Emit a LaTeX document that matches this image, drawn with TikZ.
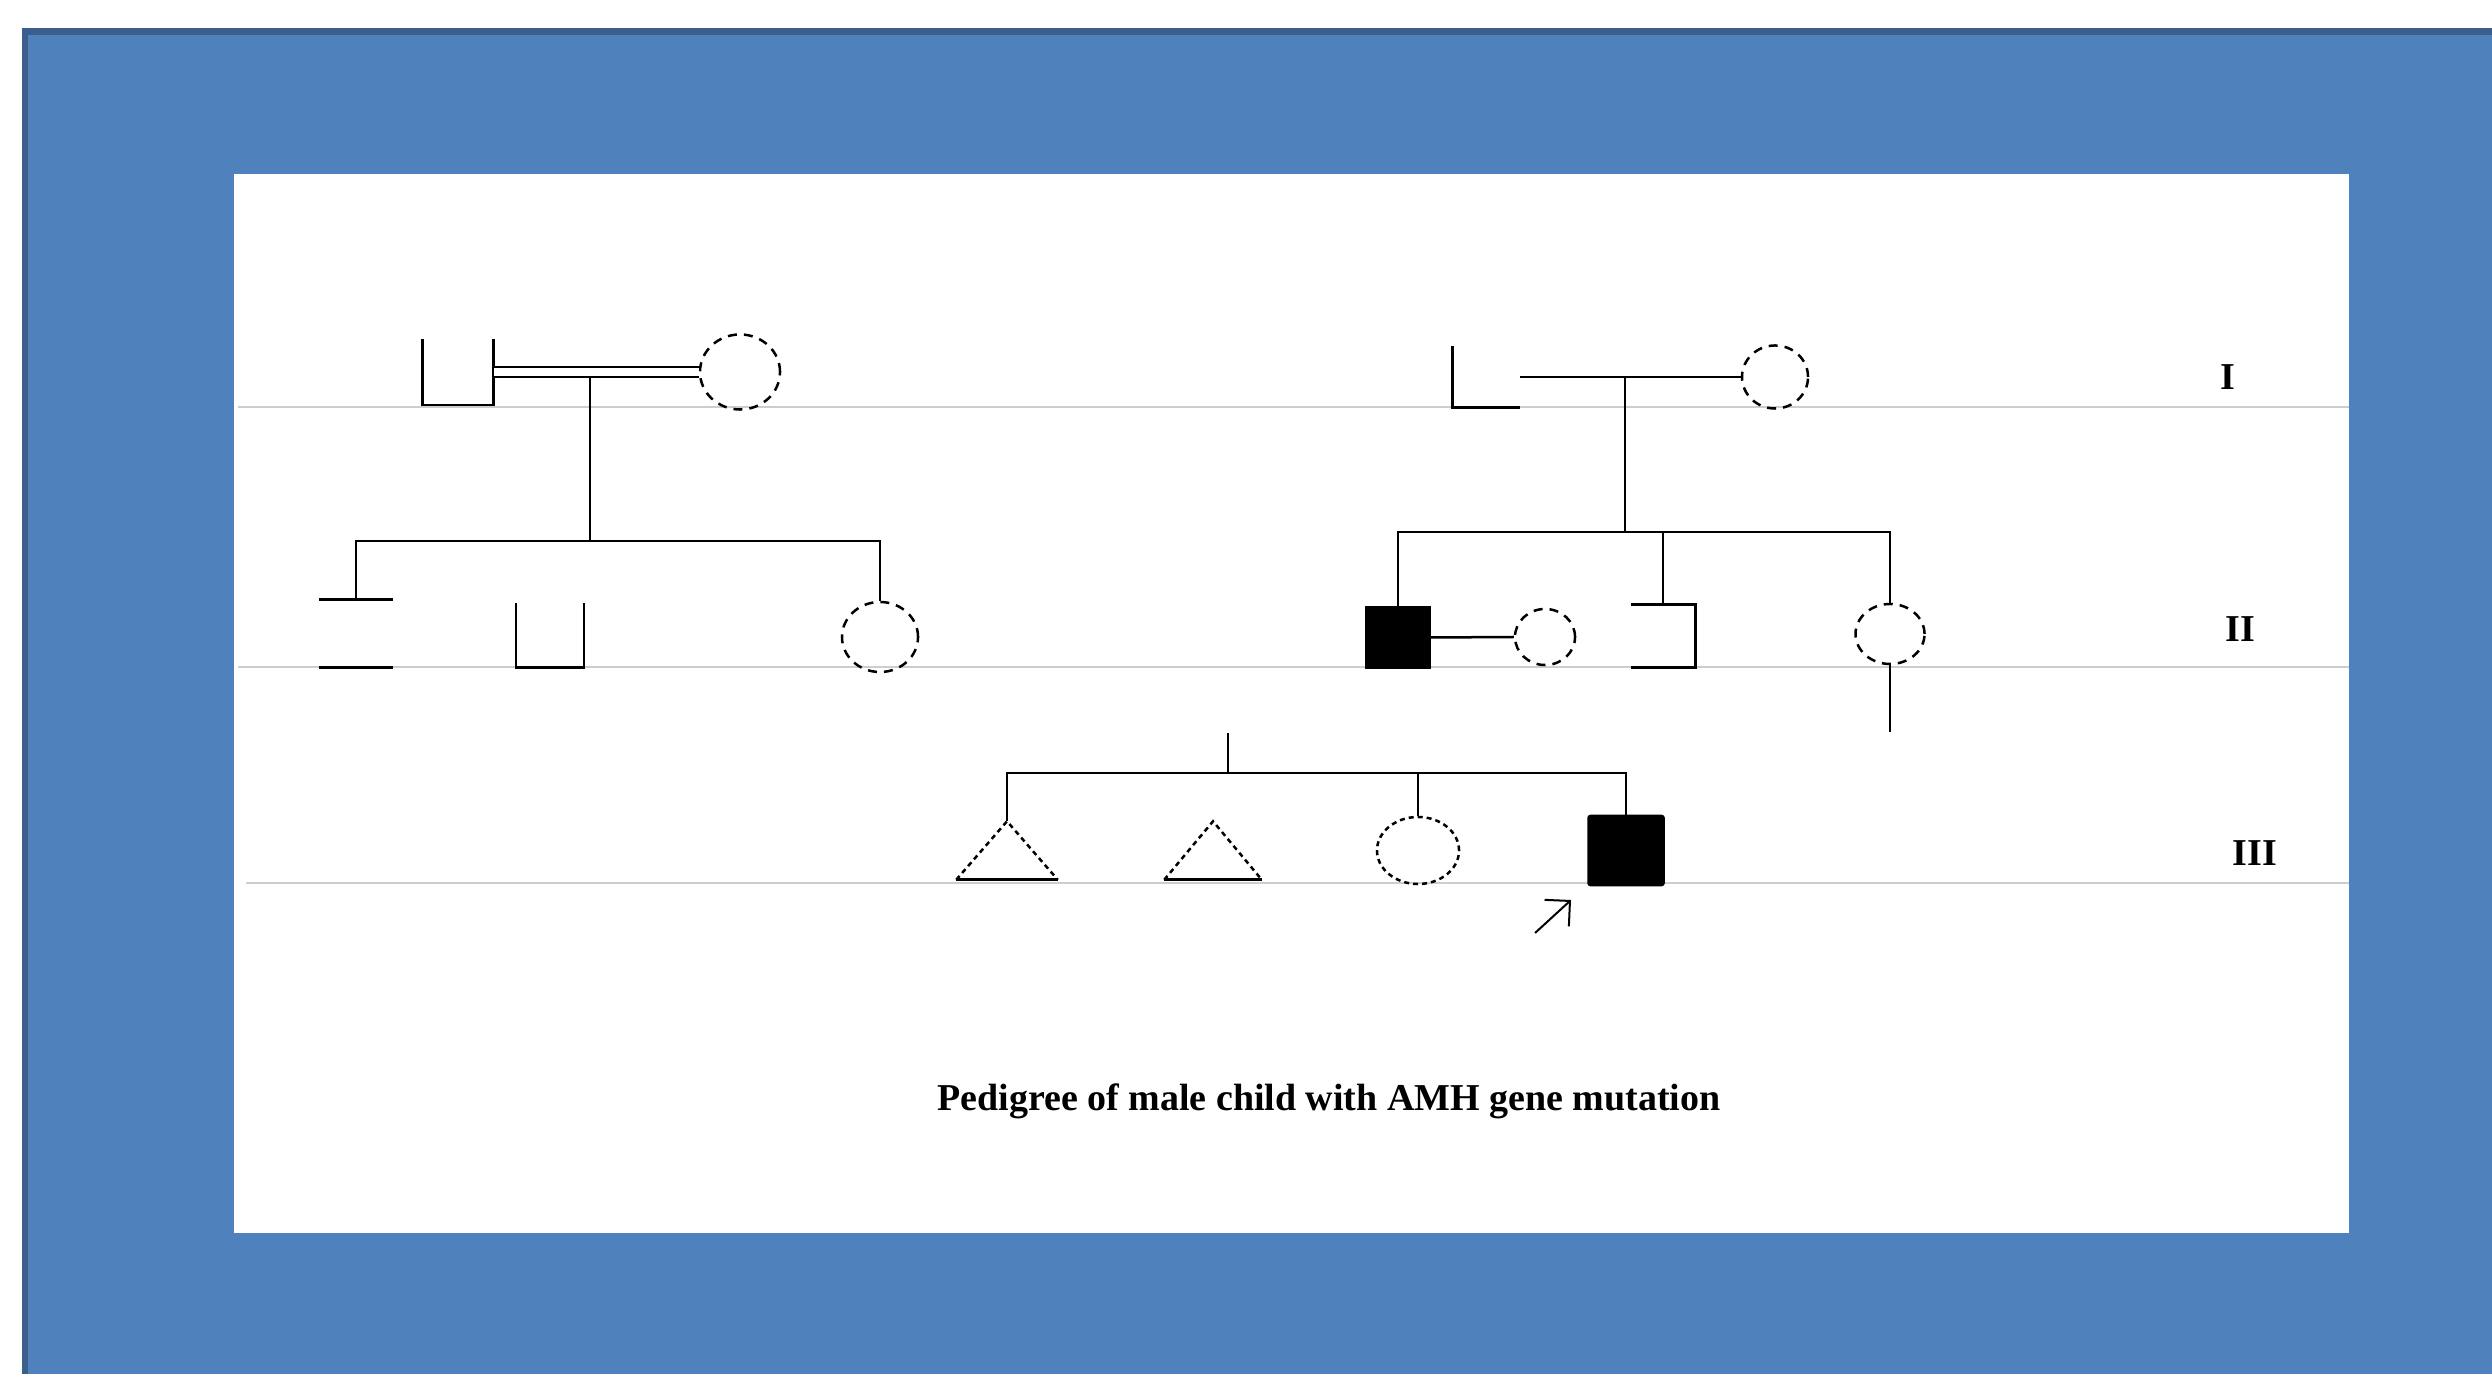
\documentclass[tikz,border=0pt]{standalone}
\usepackage{fontspec}
\setmainfont{Liberation Serif}
\usepackage{tikz}
\usetikzlibrary{arrows.meta, shapes.geometric}

\definecolor{frameblue}{HTML}{4F81BD}
\definecolor{frameedge}{HTML}{3B5E8C}
\definecolor{rulegray}{HTML}{CDCDCD}

\tikzset{
    rel/.style={line width=0.025cm},
    genrule/.style={draw=rulegray, line width=0.02cm},
    person/.style 2 args={rectangle, inner sep=0pt, minimum width=#1, minimum height=#2},
    affected/.style 2 args={rectangle, draw, fill=black, rel, inner sep=0pt,
        minimum width=#1, minimum height=#2},
    female/.style 2 args={ellipse, draw, rel, dash pattern=on 0.09cm off 0.07cm,
        inner sep=0pt, minimum width=#1, minimum height=#2},
    unknown/.style={dash pattern=on 0.05cm off 0.04cm},
    genlabel/.style={font=\bfseries\fontsize{10.8}{13}\selectfont, inner sep=0pt},
    proband/.style={line width=0.02cm, -{Straight Barb[length=0.18cm, width=0.36cm]}}
}

\begin{document}
\begin{tikzpicture}[x=0.01cm, y=-0.01cm]
    \useasboundingbox (0,0) rectangle (2492,1374);
    % frame
    \fill[frameblue] (22,28) rectangle (2492,1374);
    \fill[frameedge] (22,28) rectangle (2492,35);
    \fill[frameedge] (22,28) rectangle (28,1374);
    \fill[white] (234,174) rectangle (2349,1233);

    % generation lines
    \draw[genrule] (238,407) -- (2349,407);
    \draw[genrule] (238,667) -- (2349,667);
    \draw[genrule] (246,883) -- (2349,883);

    % generation I, left couple
    \node[person={0.70cm}{0.65cm}] (i1) at (458,372) {};
    \draw[rel] (i1.north west) -- (i1.south west) -- (i1.south east) -- (i1.north east);
    \node[female={0.80cm}{0.75cm}] (i2) at (740,372) {};
    \draw[rel, double, double distance=0.075cm] (i1.east) -- (i2.west);
    \coordinate (m1) at (590,377);
    \coordinate (s1) at (590,541);
    \draw[rel] (m1) -- (s1);

    % generation II, left sibship
    \node[person={0.72cm}{0.67cm}] (ii1) at (356,633.5) {};
    \draw[rel] (ii1.north west) -- (ii1.north east);
    \draw[rel] (ii1.south west) -- (ii1.south east);
    \node[person={0.67cm}{0.63cm}] (ii2) at (550,635.5) {};
    \draw[rel] (ii2.north west) -- (ii2.south west) -- (ii2.south east) -- (ii2.north east);
    \node[female={0.76cm}{0.70cm}] (ii3) at (880,637) {};
    \draw[rel] (ii1.north) |- (s1) -| (ii3.north);

    % generation I, right couple
    \node[person={0.66cm}{0.60cm}] (i3) at (1486,377) {};
    \draw[rel] (i3.north west) -- (i3.south west) -- (i3.south east);
    \node[female={0.66cm}{0.63cm}] (i4) at (1775,377) {};
    \draw[rel] (i3.east) -- (i4.west);
    \coordinate (m2) at (1625,377);
    \coordinate (s2) at (1625,532);
    \draw[rel] (m2) -- (s2);

    % generation II, right sibship
    \node[affected={0.63cm}{0.61cm}] (ii4) at (1398,637.5) {};
    \node[female={0.60cm}{0.56cm}] (ii5) at (1545,637) {};
    \draw[rel] (ii4.east) -- (ii5.west);
    \node[person={0.63cm}{0.62cm}] (ii6) at (1663,636) {};
    \draw[rel] (ii6.north west) -- (ii6.north east) -- (ii6.south east) -- (ii6.south west);
    \node[female={0.69cm}{0.60cm}] (ii7) at (1890,634) {};
    \coordinate (d1) at (1890,732);
    \draw[rel] (ii4.north) |- (s2) -| (ii7.north);
    \draw[rel] (s2 -| ii6.north) -- (ii6.north);
    \draw[rel] (ii7.south) -- (d1);

    % generation III
    \coordinate (c1) at (1228,733);
    \coordinate (s3) at (1228,773);
    \draw[rel] (c1) -- (s3);
    \node[person={1.00cm}{0.57cm}] (iii1) at (1007,850.5) {};
    \draw[rel, unknown] (iii1.south west) -- (iii1.north) -- (iii1.south east);
    \draw[rel] (iii1.south west) -- (iii1.south east);
    \node[person={0.96cm}{0.57cm}] (iii2) at (1213,850.5) {};
    \draw[rel, unknown] (iii2.south west) -- (iii2.north) -- (iii2.south east);
    \draw[rel] (iii2.south west) -- (iii2.south east);
    \node[female={0.82cm}{0.67cm}, unknown] (iii3) at (1418,850.5) {};
    \node[affected={0.75cm}{0.69cm}, rounded corners=0.02cm] (iii4) at (1626,850.5) {};
    \draw[rel] (iii1.north) |- (s3) -| (iii4.north);
    \draw[rel] (s3 -| iii3.north) -- (iii3.north);
    \coordinate (pb) at (1535,933);
    \draw[proband] (pb) -- ++(36,-33);

    % labels
    \node[genlabel, anchor=base] (gI) at (2228,390) {I};
    \node[genlabel, anchor=base] (gII) at (2240,642) {II};
    \node[genlabel, anchor=base] (gIII) at (2255,866) {III};
    \node[genlabel, anchor=base] (caption) at (1329,1110)
        {Pedigree of male child with AMH gene mutation};
\end{tikzpicture}
\end{document}
